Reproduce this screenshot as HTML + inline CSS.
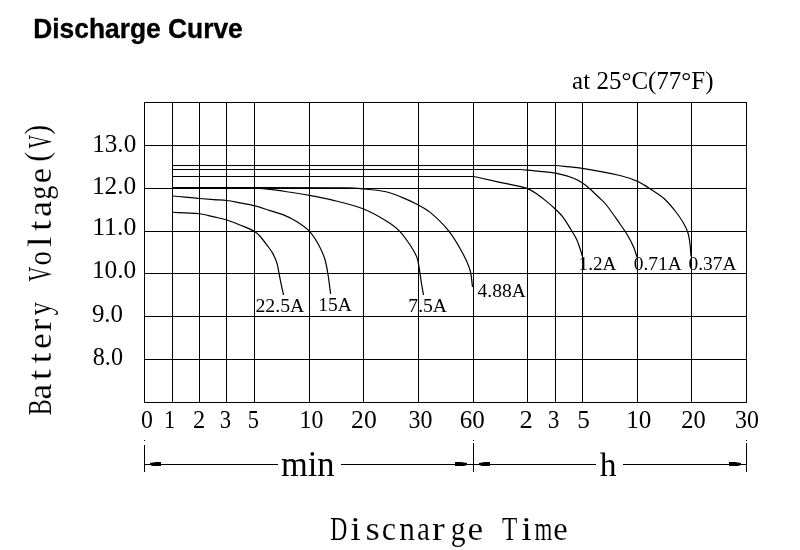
<!DOCTYPE html>
<html><head><meta charset="utf-8"><style>
html,body{margin:0;padding:0;background:#fff;width:800px;height:550px;overflow:hidden}
svg{display:block;filter:grayscale(1)}
</style></head><body>
<svg width="800" height="550" viewBox="0 0 800 550">
<rect width="800" height="550" fill="#fff"/>
<rect x="144" y="102" width="1" height="301" fill="#000"/>
<rect x="172" y="102" width="1" height="301" fill="#000"/>
<rect x="199" y="102" width="1" height="301" fill="#000"/>
<rect x="226" y="102" width="1" height="301" fill="#000"/>
<rect x="254" y="102" width="1" height="301" fill="#000"/>
<rect x="309" y="102" width="1" height="301" fill="#000"/>
<rect x="363" y="102" width="1" height="301" fill="#000"/>
<rect x="418" y="102" width="1" height="301" fill="#000"/>
<rect x="473" y="102" width="1" height="301" fill="#000"/>
<rect x="527" y="102" width="1" height="301" fill="#000"/>
<rect x="555" y="102" width="1" height="301" fill="#000"/>
<rect x="582" y="102" width="1" height="301" fill="#000"/>
<rect x="637" y="102" width="1" height="301" fill="#000"/>
<rect x="691" y="102" width="1" height="301" fill="#000"/>
<rect x="746" y="102" width="1" height="301" fill="#000"/>
<rect x="144" y="102" width="603" height="1" fill="#000"/>
<rect x="144" y="145" width="603" height="1" fill="#000"/>
<rect x="144" y="188" width="603" height="1" fill="#000"/>
<rect x="144" y="231" width="603" height="1" fill="#000"/>
<rect x="144" y="273" width="603" height="1" fill="#000"/>
<rect x="144" y="316" width="603" height="1" fill="#000"/>
<rect x="144" y="359" width="603" height="1" fill="#000"/>
<rect x="144" y="402" width="603" height="1" fill="#000"/>
<path d="M172.00,165.50 C299.67,165.50 427.33,165.50 555.00,165.50 C564.17,166.43 573.39,166.90 582.50,168.30 C595.08,170.24 607.62,172.53 620.00,175.50 C626.16,176.98 632.23,178.99 638.00,181.60 C642.96,183.85 647.44,187.03 652.00,190.00 C656.11,192.67 660.39,195.19 664.00,198.50 C668.44,202.57 672.28,207.26 676.00,212.00 C678.97,215.78 681.61,219.83 684.00,224.00 C685.63,226.85 687.06,229.86 688.00,233.00 C689.07,236.57 689.53,240.30 690.00,244.00 C690.53,248.15 690.67,252.33 691.00,256.50" fill="none" stroke="#000" stroke-width="1.2"/>
<path d="M172.00,169.50 C288.00,169.50 404.00,169.50 520.00,169.50 C526.67,170.10 533.34,170.61 540.00,171.30 C545.18,171.84 550.40,172.16 555.50,173.20 C561.43,174.40 567.31,175.94 573.00,178.00 C576.36,179.22 579.50,181.06 582.50,183.00 C585.19,184.74 587.60,186.89 590.00,189.00 C593.10,191.72 596.04,194.63 599.00,197.50 C601.37,199.80 603.95,201.91 606.00,204.50 C610.97,210.77 615.42,217.44 620.00,224.00 C622.75,227.94 625.58,231.85 628.00,236.00 C630.25,239.86 632.24,243.89 634.00,248.00 C635.25,250.91 636.00,254.00 637.00,257.00" fill="none" stroke="#000" stroke-width="1.2"/>
<path d="M172.00,176.50 C272.67,176.50 373.33,176.50 474.00,176.50 C482.67,178.43 491.34,180.35 500.00,182.30 C509.00,184.32 518.23,185.55 527.00,188.40 C530.85,189.65 534.12,192.27 537.50,194.50 C540.54,196.51 543.38,198.80 546.20,201.10 C549.22,203.57 552.19,206.10 555.00,208.80 C557.76,211.44 560.57,214.07 562.90,217.10 C565.90,221.00 568.33,225.31 570.90,229.50 C572.93,232.81 575.05,236.08 576.70,239.60 C578.23,242.88 579.23,246.38 580.40,249.80 C581.10,251.85 581.67,253.93 582.30,256.00" fill="none" stroke="#000" stroke-width="1.2"/>
<path d="M172.00,187.60 C230.67,187.67 289.33,187.37 348.00,187.80 C353.35,187.84 358.68,188.45 364.00,189.00 C371.35,189.76 378.78,190.15 386.00,191.75 C391.52,192.97 396.76,195.28 402.00,197.40 C407.10,199.47 412.14,201.71 417.00,204.30 C421.66,206.79 426.45,209.21 430.50,212.60 C437.01,218.04 443.20,223.97 448.50,230.60 C453.77,237.19 457.96,244.60 462.00,252.00 C465.15,257.76 468.11,263.71 470.00,270.00 C471.65,275.49 471.67,281.33 472.50,287.00" fill="none" stroke="#000" stroke-width="1.2"/>
<path d="M172.00,187.80 C201.17,187.97 230.35,187.35 259.50,188.30 C268.06,188.58 276.52,190.31 285.00,191.50 C293.18,192.65 301.36,193.85 309.50,195.30 C316.87,196.62 324.24,197.97 331.50,199.80 C342.09,202.47 352.80,204.89 363.00,208.80 C370.89,211.83 378.27,216.12 385.50,220.50 C390.31,223.41 395.03,226.63 399.00,230.60 C403.35,234.95 406.83,240.13 410.25,245.25 C412.85,249.15 415.36,253.21 417.00,257.60 C418.48,261.55 418.78,265.85 419.50,270.00 C420.28,274.48 420.78,279.01 421.50,283.50 C422.11,287.34 422.83,291.17 423.50,295.00" fill="none" stroke="#000" stroke-width="1.2"/>
<path d="M172.50,196.00 C176.67,196.37 180.83,196.72 185.00,197.10 C189.87,197.55 194.73,198.08 199.60,198.50 C204.31,198.91 209.03,199.25 213.75,199.60 C218.13,199.92 222.54,199.95 226.90,200.50 C231.30,201.05 235.64,202.07 240.00,202.90 C244.59,203.77 249.23,204.44 253.75,205.60 C259.24,207.01 264.59,208.91 270.00,210.60 C274.51,212.01 279.13,213.11 283.50,214.90 C288.02,216.75 292.46,218.89 296.60,221.50 C301.17,224.38 305.76,227.40 309.50,231.30 C313.05,235.00 315.71,239.51 318.20,244.00 C320.81,248.70 323.10,253.63 324.75,258.75 C326.39,263.85 327.12,269.21 328.00,274.50 C329.07,280.97 329.73,287.50 330.60,294.00" fill="none" stroke="#000" stroke-width="1.2"/>
<path d="M172.50,212.25 C176.67,212.47 180.83,212.67 185.00,212.90 C189.87,213.17 194.77,213.08 199.60,213.75 C204.39,214.42 209.04,215.82 213.75,216.90 C218.14,217.91 222.60,218.67 226.90,220.00 C231.37,221.38 235.67,223.23 240.00,225.00 C244.63,226.90 249.39,228.55 253.75,231.00 C256.12,232.33 258.17,234.24 260.00,236.25 C263.20,239.77 265.90,243.70 268.75,247.50 C270.11,249.31 271.54,251.10 272.60,253.10 C274.27,256.25 275.83,259.50 276.90,262.90 C278.01,266.44 278.37,270.17 279.10,273.80 C279.84,277.47 280.54,281.14 281.30,284.80 C282.01,288.21 282.77,291.60 283.50,295.00" fill="none" stroke="#000" stroke-width="1.2"/>
<rect x="144" y="464" width="134" height="1" fill="#000"/>
<rect x="341" y="464" width="255" height="1" fill="#000"/>
<rect x="623" y="464" width="124" height="1" fill="#000"/>
<rect x="144" y="440" width="1" height="1" fill="#000"/>
<rect x="144" y="445" width="1" height="27" fill="#000"/>
<rect x="473" y="440" width="1" height="1" fill="#000"/>
<rect x="473" y="443" width="1" height="29" fill="#000"/>
<rect x="746" y="440" width="1" height="1" fill="#000"/>
<rect x="746" y="443" width="1" height="29" fill="#000"/>
<polygon points="150,463 156,462 161,462 161,466 153,466 150,465" fill="#000"/>
<polygon points="467,463 461,462 455,462 455,466 464,466 467,465" fill="#000"/>
<polygon points="479,463 485,462 490,462 490,466 482,466 479,465" fill="#000"/>
<polygon points="741,463 735,462 729,462 729,466 738,466 741,465" fill="#000"/>
<text transform="translate(33.22,37.50) scale(0.9750,1)" font-family='"Liberation Sans", sans-serif' font-weight="bold" font-size="27.05" stroke="#000" stroke-width="0.35">Discharge Curve</text>
<text transform="translate(572.12,88.60) scale(1.0077,1)" font-family='"Liberation Serif", serif' font-weight="normal" font-size="24.81" stroke="#fff" stroke-width="0">at 25°C(77°F)</text>
<text transform="translate(92.20,151.65) scale(1.0113,1)" font-family='"Liberation Serif", serif' font-weight="normal" font-size="24.89" stroke="#fff" stroke-width="0">13.0</text>
<text transform="translate(91.88,194.35) scale(1.0248,1)" font-family='"Liberation Serif", serif' font-weight="normal" font-size="24.74" stroke="#fff" stroke-width="0">12.0</text>
<text transform="translate(92.15,235.36) scale(1.0604,1)" font-family='"Liberation Serif", serif' font-weight="normal" font-size="24.30" stroke="#fff" stroke-width="0">11.0</text>
<text transform="translate(91.88,277.65) scale(1.0127,1)" font-family='"Liberation Serif", serif' font-weight="normal" font-size="25.04" stroke="#fff" stroke-width="0">10.0</text>
<text transform="translate(91.89,322.35) scale(0.9951,1)" font-family='"Liberation Serif", serif' font-weight="normal" font-size="25.04" stroke="#fff" stroke-width="0">9.0</text>
<text transform="translate(92.79,364.65) scale(0.9485,1)" font-family='"Liberation Serif", serif' font-weight="normal" font-size="25.48" stroke="#fff" stroke-width="0">8.0</text>
<text transform="translate(141.01,427.65) scale(0.9492,1)" font-family='"Liberation Serif", serif' font-weight="normal" font-size="25.04" stroke="#fff" stroke-width="0">0</text>
<text transform="translate(164.04,427.65) scale(0.8951,1)" font-family='"Liberation Serif", serif' font-weight="normal" font-size="25.04" stroke="#fff" stroke-width="0">1</text>
<text transform="translate(192.97,427.65) scale(0.9725,1)" font-family='"Liberation Serif", serif' font-weight="normal" font-size="25.04" stroke="#fff" stroke-width="0">2</text>
<text transform="translate(219.77,427.65) scale(0.9053,1)" font-family='"Liberation Serif", serif' font-weight="normal" font-size="25.04" stroke="#fff" stroke-width="0">3</text>
<text transform="translate(247.81,427.65) scale(0.8931,1)" font-family='"Liberation Serif", serif' font-weight="normal" font-size="25.04" stroke="#fff" stroke-width="0">5</text>
<text transform="translate(299.52,427.65) scale(0.9495,1)" font-family='"Liberation Serif", serif' font-weight="normal" font-size="25.04" stroke="#fff" stroke-width="0">10</text>
<text transform="translate(351.11,427.65) scale(1.0246,1)" font-family='"Liberation Serif", serif' font-weight="normal" font-size="25.04" stroke="#fff" stroke-width="0">20</text>
<text transform="translate(408.46,427.65) scale(0.9560,1)" font-family='"Liberation Serif", serif' font-weight="normal" font-size="25.04" stroke="#fff" stroke-width="0">30</text>
<text transform="translate(459.69,427.65) scale(1.0007,1)" font-family='"Liberation Serif", serif' font-weight="normal" font-size="25.04" stroke="#fff" stroke-width="0">60</text>
<text transform="translate(519.57,427.65) scale(1.0618,1)" font-family='"Liberation Serif", serif' font-weight="normal" font-size="25.04" stroke="#fff" stroke-width="0">2</text>
<text transform="translate(547.69,427.65) scale(0.9295,1)" font-family='"Liberation Serif", serif' font-weight="normal" font-size="25.04" stroke="#fff" stroke-width="0">3</text>
<text transform="translate(577.15,427.65) scale(1.0072,1)" font-family='"Liberation Serif", serif' font-weight="normal" font-size="25.04" stroke="#fff" stroke-width="0">5</text>
<text transform="translate(626.20,427.65) scale(1.0042,1)" font-family='"Liberation Serif", serif' font-weight="normal" font-size="25.04" stroke="#fff" stroke-width="0">10</text>
<text transform="translate(681.36,427.65) scale(0.9768,1)" font-family='"Liberation Serif", serif' font-weight="normal" font-size="25.04" stroke="#fff" stroke-width="0">20</text>
<text transform="translate(735.12,427.65) scale(0.9538,1)" font-family='"Liberation Serif", serif' font-weight="normal" font-size="25.04" stroke="#fff" stroke-width="0">30</text>
<text transform="translate(255.41,311.61) scale(1.0238,1)" font-family='"Liberation Serif", serif' font-weight="normal" font-size="19.33" stroke="#fff" stroke-width="0">22.5A</text>
<text transform="translate(318.29,310.56) scale(1.0091,1)" font-family='"Liberation Serif", serif' font-weight="normal" font-size="19.33" stroke="#fff" stroke-width="0">15A</text>
<text transform="translate(408.32,311.95) scale(0.9963,1)" font-family='"Liberation Serif", serif' font-weight="normal" font-size="19.70" stroke="#fff" stroke-width="0">7.5A</text>
<text transform="translate(477.51,296.91) scale(1.0180,1)" font-family='"Liberation Serif", serif' font-weight="normal" font-size="19.19" stroke="#fff" stroke-width="0">4.88A</text>
<text transform="translate(578.57,270.41) scale(1.0191,1)" font-family='"Liberation Serif", serif' font-weight="normal" font-size="18.81" stroke="#fff" stroke-width="0">1.2A</text>
<text transform="translate(633.67,270.41) scale(1.0334,1)" font-family='"Liberation Serif", serif' font-weight="normal" font-size="18.81" stroke="#fff" stroke-width="0">0.71A</text>
<text transform="translate(688.52,270.41) scale(1.0345,1)" font-family='"Liberation Serif", serif' font-weight="normal" font-size="18.81" stroke="#fff" stroke-width="0">0.37A</text>
<text transform="translate(280.91,475.80) scale(0.9761,1)" font-family='"Liberation Serif", serif' font-weight="normal" font-size="35.32" stroke="#fff" stroke-width="0">min</text>
<text transform="translate(599.66,475.80) scale(0.9910,1)" font-family='"Liberation Serif", serif' font-weight="normal" font-size="33.81" stroke="#fff" stroke-width="0">h</text>
<text transform="translate(330.35,539.80) scale(0.7110,1)" font-family='"Liberation Serif", serif' font-size="33.28" stroke="#fff" stroke-width="0.1">D</text>
<text transform="translate(350.14,539.80) scale(1.1500,1)" font-family='"Liberation Serif", serif' font-size="33.28" stroke="#fff" stroke-width="0.1">i</text>
<text transform="translate(365.53,539.80) scale(1.1057,1)" font-family='"Liberation Serif", serif' font-size="33.28" stroke="#fff" stroke-width="0.1">s</text>
<text transform="translate(381.80,539.80) scale(0.9615,1)" font-family='"Liberation Serif", serif' font-size="33.28" stroke="#fff" stroke-width="0.1">c</text>
<text transform="translate(399.29,539.80) scale(0.9420,1)" font-family='"Liberation Serif", serif' font-size="33.28" stroke="#fff" stroke-width="0.1">n</text>
<text transform="translate(416.98,539.80) scale(0.8748,1)" font-family='"Liberation Serif", serif' font-size="33.28" stroke="#fff" stroke-width="0.1">a</text>
<text transform="translate(431.90,539.80) scale(1.1500,1)" font-family='"Liberation Serif", serif' font-size="33.28" stroke="#fff" stroke-width="0.1">r</text>
<text transform="translate(450.74,539.80) scale(0.8928,1)" font-family='"Liberation Serif", serif' font-size="33.28" stroke="#fff" stroke-width="0.1">g</text>
<text transform="translate(467.59,539.80) scale(1.0557,1)" font-family='"Liberation Serif", serif' font-size="33.28" stroke="#fff" stroke-width="0.1">e</text>
<text transform="translate(502.06,539.80) scale(0.7544,1)" font-family='"Liberation Serif", serif' font-size="33.28" stroke="#fff" stroke-width="0.1">T</text>
<text transform="translate(521.14,539.80) scale(1.1500,1)" font-family='"Liberation Serif", serif' font-size="33.28" stroke="#fff" stroke-width="0.1">i</text>
<text transform="translate(534.54,539.80) scale(0.6879,1)" font-family='"Liberation Serif", serif' font-size="33.28" stroke="#fff" stroke-width="0.1">m</text>
<text transform="translate(553.20,539.80) scale(0.9745,1)" font-family='"Liberation Serif", serif' font-size="33.28" stroke="#fff" stroke-width="0.1">e</text>
<g transform="translate(50.5,0) rotate(-90)"><text transform="translate(-415.21,0.00) scale(0.7315,1)" font-family='"Liberation Serif", serif' font-size="32.67" stroke="#fff" stroke-width="0.1">B</text><text transform="translate(-399.42,0.00) scale(1.0693,1)" font-family='"Liberation Serif", serif' font-size="32.67" stroke="#fff" stroke-width="0.1">a</text><text transform="translate(-380.11,0.00) scale(1.1500,1)" font-family='"Liberation Serif", serif' font-size="32.67" stroke="#fff" stroke-width="0.1">t</text><text transform="translate(-363.21,0.00) scale(1.1500,1)" font-family='"Liberation Serif", serif' font-size="32.67" stroke="#fff" stroke-width="0.1">t</text><text transform="translate(-348.91,0.00) scale(1.0754,1)" font-family='"Liberation Serif", serif' font-size="32.67" stroke="#fff" stroke-width="0.1">e</text><text transform="translate(-331.48,0.00) scale(1.1500,1)" font-family='"Liberation Serif", serif' font-size="32.67" stroke="#fff" stroke-width="0.1">r</text><text transform="translate(-315.28,0.00) scale(0.8015,1)" font-family='"Liberation Serif", serif' font-size="32.67" stroke="#fff" stroke-width="0.1">y</text><text transform="translate(-281.50,0.00) scale(0.6209,1)" font-family='"Liberation Serif", serif' font-size="32.67" stroke="#fff" stroke-width="0.1">V</text><text transform="translate(-265.54,0.00) scale(0.8858,1)" font-family='"Liberation Serif", serif' font-size="32.67" stroke="#fff" stroke-width="0.1">o</text><text transform="translate(-247.11,0.00) scale(1.1500,1)" font-family='"Liberation Serif", serif' font-size="32.67" stroke="#fff" stroke-width="0.1">l</text><text transform="translate(-230.81,0.00) scale(1.1500,1)" font-family='"Liberation Serif", serif' font-size="32.67" stroke="#fff" stroke-width="0.1">t</text><text transform="translate(-216.68,0.00) scale(1.0771,1)" font-family='"Liberation Serif", serif' font-size="32.67" stroke="#fff" stroke-width="0.1">a</text><text transform="translate(-199.64,0.00) scale(0.8605,1)" font-family='"Liberation Serif", serif' font-size="32.67" stroke="#fff" stroke-width="0.1">g</text><text transform="translate(-183.22,0.00) scale(1.0506,1)" font-family='"Liberation Serif", serif' font-size="32.67" stroke="#fff" stroke-width="0.1">e</text><text transform="translate(-161.79,-2.20) scale(0.9271,1)" font-family='"Liberation Serif", serif' font-size="32.67" stroke="#fff" stroke-width="0.1">(</text><text transform="translate(-148.44,0.00) scale(0.5728,1)" font-family='"Liberation Serif", serif' font-size="32.67" stroke="#fff" stroke-width="0.1">V</text><text transform="translate(-134.43,-2.20) scale(0.8796,1)" font-family='"Liberation Serif", serif' font-size="32.67" stroke="#fff" stroke-width="0.1">)</text></g>
</svg>
</body></html>
